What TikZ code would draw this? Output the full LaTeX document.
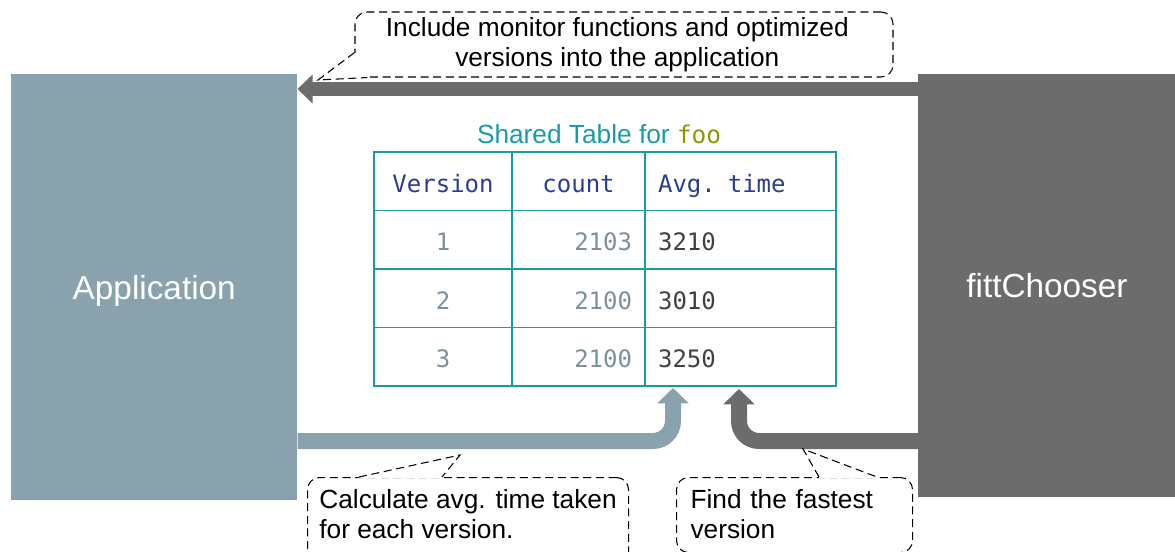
\documentclass[tikz,border=0pt]{standalone}
\usepackage{fontspec}
\setmainfont{Liberation Sans}
\setmonofont{DejaVu Sans Mono}
\usetikzlibrary{matrix,positioning,arrows.meta,calc}

\definecolor{appgrey}{RGB}{138,162,174}
\definecolor{choosergrey}{RGB}{108,108,108}
\definecolor{tablecyan}{RGB}{26,154,168}
\definecolor{headblue}{RGB}{40,62,145}
\definecolor{numgrey}{RGB}{125,145,155}
\definecolor{valgrey}{RGB}{64,64,64}
\definecolor{fooolive}{RGB}{140,152,0}

\newcommand{\notefont}{\fontsize{19.7}{22.5}\selectfont}
\newcommand{\cellfont}{\ttfamily\fontsize{18}{21}\selectfont}

\begin{document}
\begin{tikzpicture}[x=0.75pt, y=-0.75pt,
    bigbox/.style={anchor=north west, inner sep=0pt, text=white, text depth=0pt, font=\fontsize{25}{30}\selectfont},
    bigarrow/.style={line width=12pt, -{Triangle[width=23pt,length=11.5pt]}},
    notebox/.style={draw, dash pattern=on 6pt off 3.5pt, line width=0.8pt, rounded corners=9pt, font=\notefont},
    pointer/.style={dash pattern=on 6pt off 3.5pt, line width=0.8pt},
    cover/.style={white, line width=2pt},
    sharedtable/.style={matrix of nodes, anchor=north west, inner sep=0pt,
        column sep=-1.2pt, row sep=-1.2pt,
        nodes={draw=tablecyan, line width=1.2pt, font=\cellfont, minimum height=43.9pt,
            inner xsep=9.75pt, inner ysep=0pt, text height=16.5pt, text depth=0pt},
        column 1/.style={nodes={text width=84pt, align=center, text=numgrey}},
        column 2/.style={nodes={text width=80.25pt, align=right, text=numgrey}},
        column 3/.style={nodes={text width=123.75pt, align=left, text=valgrey}},
        row 1/.style={nodes={text=headblue}},
        row 1 column 2/.style={nodes={align=center}}}]
  \useasboundingbox (0,0) rectangle (1175,551);
  \clip (0,0) rectangle (1175,551);

  % Boxes
  \node[bigbox, fill=appgrey, minimum width=214.5pt, minimum height=319.5pt] (app) at (11,74) {Application};
  \node[bigbox, fill=choosergrey, minimum width=193pt, minimum height=317.25pt] (chooser) at (918,74) {fittChooser};

  % Table
  \matrix[sharedtable] (tbl) at (373,151) {
    Version & count & Avg. time \\
    1 & 2103 & 3210 \\
    2 & 2100 & 3010 \\
    3 & 2100 & 3250 \\
  };
  \node[above=1.5pt of tbl.north, xshift=-4.5pt, text=tablecyan, font=\fontsize{19.7}{22}\selectfont] (title)
    {Shared Table for {\ttfamily\fontsize{18.3}{22}\selectfont\color{fooolive}foo}};

  % Arrows
  \coordinate (topy) at (0,89);
  \coordinate (lowy) at (0,441);
  \coordinate (tipA) at (673,388);
  \coordinate (tipB) at (739,389);
  \draw[bigarrow, choosergrey, line width=11pt, -{Triangle[width=21pt,length=11.25pt]}] (chooser.west |- topy) -- (app.east |- topy);
  \draw[bigarrow, appgrey, rounded corners=15pt] (app.east |- lowy) -| (tipA);
  \draw[bigarrow, choosergrey, rounded corners=15pt] (chooser.west |- lowy) -| (tipB);

  % Notes
  \node[notebox, minimum width=403.5pt, minimum height=48.75pt, align=center] (include) at (624,44.5)
    {Include monitor functions and optimized\hspace*{10pt}\\versions into the application\hspace*{10pt}};
  \node[notebox, anchor=north west, minimum width=240.75pt, inner ysep=9pt, align=left, text depth=24pt] (calc) at (307,477)
    {Calculate avg. time taken\\for each version.};
  \node[notebox, anchor=north west, text width=156pt, inner xsep=10.5pt, inner ysep=9pt, align=left, text depth=24pt] (fastest) at (676,477)
    {Find the fastest\\version};

  % Pointers
  \coordinate (incTip) at (318,80);
  \coordinate (calcTip) at (460,455);
  \coordinate (fastTip) at (803,449);
  \fill[white] ($(include.south west)+(-2,-25)$) rectangle ($(include.south west)+(13,3)$);
  \draw[pointer] ($(include.south west)+(0,-25)$) -- (incTip) -- ($(include.south west)+(13,0)$);
  \draw[cover] ($(calc.north west)+(52,0)$) -- ($(calc.north west)+(135,0)$);
  \draw[pointer] ($(calc.north west)+(52,0)$) -- (calcTip) -- ($(calc.north west)+(135,0)$);
  \draw[cover] ($(fastest.north west)+(143,0)$) -- ($(fastest.north west)+(201,0)$);
  \draw[pointer] ($(fastest.north west)+(143,0)$) -- (fastTip) -- ($(fastest.north west)+(201,0)$);
\end{tikzpicture}
\end{document}
